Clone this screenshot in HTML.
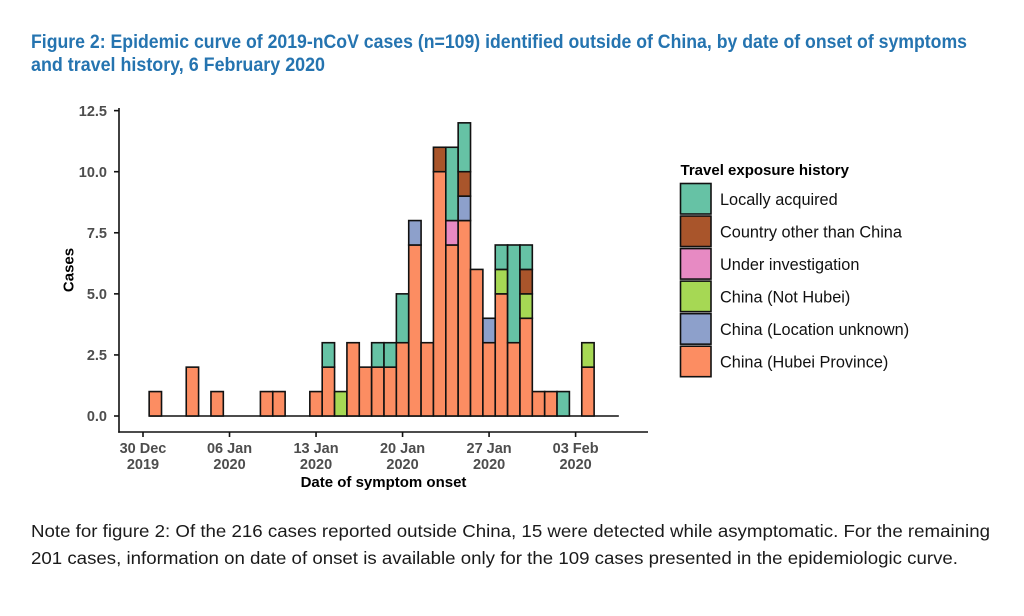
<!DOCTYPE html>
<html>
<head>
<meta charset="utf-8">
<style>
html,body{margin:0;padding:0;background:#ffffff;}
svg{display:block;}
.tk{font-family:"Liberation Sans",Arial,sans-serif;font-weight:bold;font-size:14.5px;fill:#4d4d4d;}
.ax{font-family:"Liberation Sans",Arial,sans-serif;font-weight:bold;font-size:15px;fill:#000;}
.lg{font-family:"Liberation Sans",Arial,sans-serif;font-size:16.3px;fill:#111;}
.ttl{font-family:"Liberation Sans",Arial,sans-serif;font-weight:bold;font-size:19.5px;fill:#2574b0;}
.note{font-family:"Liberation Sans",Arial,sans-serif;font-size:17.5px;fill:#1a1a1a;}
</style>
</head>
<body>
<svg width="1024" height="616" viewBox="0 0 1024 616" xmlns="http://www.w3.org/2000/svg">
<rect width="1024" height="616" fill="#ffffff"/>

<!-- Title -->
<text class="ttl" x="31" y="48" textLength="936" lengthAdjust="spacingAndGlyphs">Figure 2: Epidemic curve of 2019-nCoV cases (n=109) identified outside of China, by date of onset of symptoms</text>
<text class="ttl" x="31" y="71" textLength="294" lengthAdjust="spacingAndGlyphs">and travel history, 6 February 2020</text>

<!-- baseline (zero-count days) -->
<line x1="149.16" y1="416" x2="618.84" y2="416" stroke="#111" stroke-width="1.6"/>

<g stroke="#111" stroke-width="1.6">
<!-- Dec31 d=1 -->
<rect x="149.16" y="391.57" width="12.36" height="24.43" fill="#FC8D62"/>
<!-- Jan3 d=4 -->
<rect x="186.24" y="367.14" width="12.36" height="48.86" fill="#FC8D62"/>
<!-- Jan5 d=6 -->
<rect x="210.96" y="391.57" width="12.36" height="24.43" fill="#FC8D62"/>
<!-- Jan9 d=10 -->
<rect x="260.4" y="391.57" width="12.36" height="24.43" fill="#FC8D62"/>
<!-- Jan10 d=11 -->
<rect x="272.76" y="391.57" width="12.36" height="24.43" fill="#FC8D62"/>
<!-- Jan13 d=14 -->
<rect x="309.84" y="391.57" width="12.36" height="24.43" fill="#FC8D62"/>
<!-- Jan14 d=15 -->
<rect x="322.2" y="367.14" width="12.36" height="48.86" fill="#FC8D62"/>
<rect x="322.2" y="342.71" width="12.36" height="24.43" fill="#66C2A5"/>
<!-- Jan15 d=16 -->
<rect x="334.56" y="391.57" width="12.36" height="24.43" fill="#A6D854"/>
<!-- Jan16 d=17 -->
<rect x="346.92" y="342.71" width="12.36" height="73.29" fill="#FC8D62"/>
<!-- Jan17 d=18 -->
<rect x="359.28" y="367.14" width="12.36" height="48.86" fill="#FC8D62"/>
<!-- Jan18 d=19 -->
<rect x="371.64" y="367.14" width="12.36" height="48.86" fill="#FC8D62"/>
<rect x="371.64" y="342.71" width="12.36" height="24.43" fill="#66C2A5"/>
<!-- Jan19 d=20 -->
<rect x="384.0" y="367.14" width="12.36" height="48.86" fill="#FC8D62"/>
<rect x="384.0" y="342.71" width="12.36" height="24.43" fill="#66C2A5"/>
<!-- Jan20 d=21 -->
<rect x="396.36" y="342.71" width="12.36" height="73.29" fill="#FC8D62"/>
<rect x="396.36" y="293.85" width="12.36" height="48.86" fill="#66C2A5"/>
<!-- Jan21 d=22 -->
<rect x="408.72" y="244.99" width="12.36" height="171.01" fill="#FC8D62"/>
<rect x="408.72" y="220.56" width="12.36" height="24.43" fill="#8DA0CB"/>
<!-- Jan22 d=23 -->
<rect x="421.08" y="342.71" width="12.36" height="73.29" fill="#FC8D62"/>
<!-- Jan23 d=24 -->
<rect x="433.44" y="171.7" width="12.36" height="244.3" fill="#FC8D62"/>
<rect x="433.44" y="147.27" width="12.36" height="24.43" fill="#A9552B"/>
<!-- Jan24 d=25 -->
<rect x="445.8" y="244.99" width="12.36" height="171.01" fill="#FC8D62"/>
<rect x="445.8" y="220.56" width="12.36" height="24.43" fill="#E78AC3"/>
<rect x="445.8" y="147.27" width="12.36" height="73.29" fill="#66C2A5"/>
<!-- Jan25 d=26 -->
<rect x="458.16" y="220.56" width="12.36" height="195.44" fill="#FC8D62"/>
<rect x="458.16" y="196.13" width="12.36" height="24.43" fill="#8DA0CB"/>
<rect x="458.16" y="171.7" width="12.36" height="24.43" fill="#A9552B"/>
<rect x="458.16" y="122.84" width="12.36" height="48.86" fill="#66C2A5"/>
<!-- Jan26 d=27 -->
<rect x="470.52" y="269.42" width="12.36" height="146.58" fill="#FC8D62"/>
<!-- Jan27 d=28 -->
<rect x="482.88" y="342.71" width="12.36" height="73.29" fill="#FC8D62"/>
<rect x="482.88" y="318.28" width="12.36" height="24.43" fill="#8DA0CB"/>
<!-- Jan28 d=29 -->
<rect x="495.24" y="293.85" width="12.36" height="122.15" fill="#FC8D62"/>
<rect x="495.24" y="269.42" width="12.36" height="24.43" fill="#A6D854"/>
<rect x="495.24" y="244.99" width="12.36" height="24.43" fill="#66C2A5"/>
<!-- Jan29 d=30 -->
<rect x="507.6" y="342.71" width="12.36" height="73.29" fill="#FC8D62"/>
<rect x="507.6" y="244.99" width="12.36" height="97.72" fill="#66C2A5"/>
<!-- Jan30 d=31 -->
<rect x="519.96" y="318.28" width="12.36" height="97.72" fill="#FC8D62"/>
<rect x="519.96" y="293.85" width="12.36" height="24.43" fill="#A6D854"/>
<rect x="519.96" y="269.42" width="12.36" height="24.43" fill="#A9552B"/>
<rect x="519.96" y="244.99" width="12.36" height="24.43" fill="#66C2A5"/>
<!-- Jan31 d=32 -->
<rect x="532.32" y="391.57" width="12.36" height="24.43" fill="#FC8D62"/>
<!-- Feb1 d=33 -->
<rect x="544.68" y="391.57" width="12.36" height="24.43" fill="#FC8D62"/>
<!-- Feb2 d=34 -->
<rect x="557.04" y="391.57" width="12.36" height="24.43" fill="#66C2A5"/>
<!-- Feb4 d=36 -->
<rect x="581.76" y="367.14" width="12.36" height="48.86" fill="#FC8D62"/>
<rect x="581.76" y="342.71" width="12.36" height="24.43" fill="#A6D854"/>
</g>

<!-- Axes -->
<g stroke="#111" stroke-width="1.6" fill="none">
<line x1="119" y1="108" x2="119" y2="432.8"/>
<line x1="118.2" y1="432" x2="648" y2="432"/>
<!-- y ticks -->
<line x1="114" y1="416" x2="119" y2="416"/>
<line x1="114" y1="354.93" x2="119" y2="354.93"/>
<line x1="114" y1="293.85" x2="119" y2="293.85"/>
<line x1="114" y1="232.78" x2="119" y2="232.78"/>
<line x1="114" y1="171.7" x2="119" y2="171.7"/>
<line x1="114" y1="110.63" x2="119" y2="110.63"/>
<!-- x ticks -->
<line x1="143" y1="432" x2="143" y2="437"/>
<line x1="229.52" y1="432" x2="229.52" y2="437"/>
<line x1="316.04" y1="432" x2="316.04" y2="437"/>
<line x1="402.56" y1="432" x2="402.56" y2="437"/>
<line x1="489.08" y1="432" x2="489.08" y2="437"/>
<line x1="575.6" y1="432" x2="575.6" y2="437"/>
</g>

<!-- y tick labels -->
<g class="tk" text-anchor="end">
<text x="107" y="421">0.0</text>
<text x="107" y="360">2.5</text>
<text x="107" y="299">5.0</text>
<text x="107" y="238">7.5</text>
<text x="107" y="177">10.0</text>
<text x="107" y="116">12.5</text>
</g>

<!-- x tick labels -->
<g class="tk" text-anchor="middle">
<text x="143" y="453">30 Dec</text><text x="143" y="469">2019</text>
<text x="229.52" y="453">06 Jan</text><text x="229.52" y="469">2020</text>
<text x="316.04" y="453">13 Jan</text><text x="316.04" y="469">2020</text>
<text x="402.56" y="453">20 Jan</text><text x="402.56" y="469">2020</text>
<text x="489.08" y="453">27 Jan</text><text x="489.08" y="469">2020</text>
<text x="575.6" y="453">03 Feb</text><text x="575.6" y="469">2020</text>
</g>

<!-- axis titles -->
<text class="ax" x="383.5" y="487" text-anchor="middle">Date of symptom onset</text>
<text class="ax" x="0" y="0" text-anchor="middle" transform="translate(73.5,270) rotate(-90)">Cases</text>

<!-- Legend -->
<text class="ax" x="680.5" y="175">Travel exposure history</text>
<g stroke="#111" stroke-width="1.6">
<rect x="680.5" y="183.5" width="30.5" height="30.5" fill="#66C2A5"/>
<rect x="680.5" y="216.04" width="30.5" height="30.5" fill="#A9552B"/>
<rect x="680.5" y="248.58" width="30.5" height="30.5" fill="#E78AC3"/>
<rect x="680.5" y="281.12" width="30.5" height="30.5" fill="#A6D854"/>
<rect x="680.5" y="313.66" width="30.5" height="30.5" fill="#8DA0CB"/>
<rect x="680.5" y="346.2" width="30.5" height="30.5" fill="#FC8D62"/>
</g>
<g class="lg">
<text x="720" y="205">Locally acquired</text>
<text x="720" y="237.5">Country other than China</text>
<text x="720" y="270">Under investigation</text>
<text x="720" y="302.5">China (Not Hubei)</text>
<text x="720" y="335">China (Location unknown)</text>
<text x="720" y="367.5">China (Hubei Province)</text>
</g>

<!-- Note -->
<text class="note" x="31" y="537" textLength="959" lengthAdjust="spacingAndGlyphs">Note for figure 2: Of the 216 cases reported outside China, 15 were detected while asymptomatic. For the remaining</text>
<text class="note" x="31" y="564" textLength="927" lengthAdjust="spacingAndGlyphs">201 cases, information on date of onset is available only for the 109 cases presented in the epidemiologic curve.</text>
</svg>
</body>
</html>
